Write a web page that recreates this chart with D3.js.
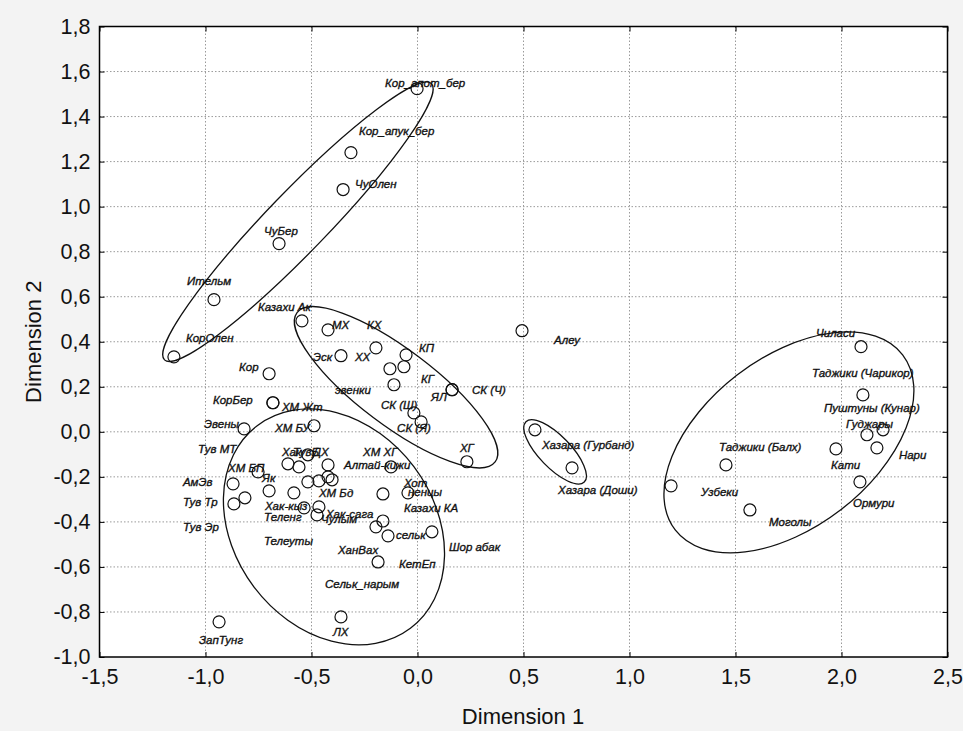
<!DOCTYPE html>
<html><head><meta charset="utf-8">
<script src="https://cdn.jsdelivr.net/npm/d3@7"></script>
<style>
html,body{margin:0;padding:0;background:#f3f3f3;}
svg{display:block;}
</style></head>
<body><div id="chart"></div>
<script>
// ---- data ----
const names = ["Кор_апот_бер","Кор_апук_бер","ЧуОлен","ЧуБер","Ительм","КорОлен","Казахи Ак",
"МХ","КХ","Эск","ХХ","КП","КГ","эвенки","ЯЛ","СК (Ч)","СК (Ш)","СК (Я)","ХГ",
"Алеу","Хазара (Гурбанд)","Хазара (Доши)",
"Чиласи","Таджики (Чарикор)","Пуштуны (Кунар)","Гуджары","Нари","Кати","Ормури","Таджики (Балх)","Узбеки","Моголы",
"Кор","КорБер","ХМ Жт","Эвены","ХМ БУ",
"ХМ БП","Як","Тув МТ","Тув Тр","АмЭв","Хак","ТувБ","ДХ","ХМ ХГ","Телеуты","ХМ Бд","Тув Эр","Сельк_нарым",
"Хак-кыз","Хак-сага","Теленг","Чулым","Алтай-кижи","Хот","ненцы","Казахи КА","ХанВах","сельк","Шор абак","КетЕп","ЛХ","ЗапТунг"];
const dim1 = [-0.002,-0.314,-0.351,-0.653,-0.960,-1.149,-0.545,
-0.422,-0.196,-0.361,-0.130,-0.054,-0.064,-0.111,0.163,0.163,-0.017,0.017,0.233,
0.493,0.554,0.729,
2.092,2.101,2.120,2.196,2.167,1.974,2.087,1.455,1.196,1.568,
-0.700,-0.682,-0.682,-0.818,-0.488,
-0.752,-0.700,-0.870,-0.866,-0.814,-0.611,-0.559,-0.517,-0.422,-0.517,-0.465,-0.422,-0.403,
-0.583,-0.465,-0.535,-0.474,-0.125,-0.163,-0.045,-0.163,-0.196,-0.139,0.068,-0.186,-0.361,-0.936];
const dim2 = [1.524,1.240,1.076,0.836,0.587,0.333,0.493,
0.453,0.373,0.338,0.280,0.342,0.289,0.209,0.187,0.187,0.084,0.044,-0.133,
0.449,0.009,-0.160,
0.378,0.164,-0.013,0.009,-0.071,-0.076,-0.222,-0.147,-0.240,-0.347,
0.258,0.129,0.129,0.013,0.027,
-0.178,-0.262,-0.231,-0.320,-0.293,-0.142,-0.156,-0.102,-0.147,-0.222,-0.218,-0.200,-0.213,
-0.271,-0.333,-0.338,-0.369,-0.156,-0.276,-0.271,-0.396,-0.422,-0.462,-0.444,-0.578,-0.822,-0.844];

// cluster ellipses (data units; a,b measured in x-units, angle in screen degrees)
const ellCX = [-0.564,-0.101,-0.394,0.649,1.752];
const ellCY = [0.933,0.198,-0.422,-0.089,-0.047];
const ellA  = [0.906,0.585,0.599,0.198,0.677];
const ellB  = [0.142,0.179,0.472,0.075,0.401];
const ellAngle = [-46,37,53,46,-37.6];

const xTicks = [-1.5,-1.0,-0.5,0.0,0.5,1.0,1.5,2.0,2.5];
const yTicks = [-1.0,-0.8,-0.6,-0.4,-0.2,0.0,0.2,0.4,0.6,0.8,1.0,1.2,1.4,1.6,1.8];
const xTitle = "Dimension 1", yTitle = "Dimension 2";

// ---- layout: label offsets in px (left edge, vertical centre) ----
const labelDX = [-32,8,12,-15,-27,12,-44,
4,-9,-28,-35,13,17,-59,-21,20,-33,-24,-7,
32,7,-14,
-45,-51,-43,-37,22,-5,-7,-7,30,19,
-30,-60,9,-40,-39,
-30,-7,-35,-51,-62,-6,-6,5,35,-44,0,-145,-7,
-29,7,-40,4,-47,21,0,21,-38,8,17,21,-8,-20];
const labelDY = [-6,-22,-6,-13,-19,-19,-14,
-5,-23,1,-12,-7,12,5,7,0,-8,6,-14,
9,15,22,
-14,-22,-27,-6,7,16,21,-18,6,12,
-7,-3,4,-5,2,
-4,-13,-35,-2,-16,-12,-15,-3,-13,59,12,50,104,
13,7,9,4,-2,-11,-1,-13,23,-1,15,2,15,18];

const W = 963, H = 731;
const m = {left:99.5, right:947.5, top:26.5, bottom:657};
const x = d3.scaleLinear().domain([-1.5,2.5]).range([m.left, m.right]);
const y = d3.scaleLinear().domain([-1.0,1.8]).range([m.bottom, m.top]);
const loc = d3.formatLocale({decimal:",", thousands:" ", grouping:[3], currency:["",""], minus:"-"});
const fmt = loc.format(".1f");

const svg = d3.select("#chart").append("svg").attr("width",W).attr("height",H)
  .style("font-family","'Liberation Sans', Arial, sans-serif");
svg.append("rect").attr("width",W).attr("height",H).attr("fill","#f3f3f3");
svg.append("rect").attr("x",m.left).attr("y",m.top).attr("width",m.right-m.left).attr("height",m.bottom-m.top).attr("fill","#fff");

// grid
const g = svg.append("g");
g.selectAll(".gx").data(xTicks.slice(1,-1)).join("line")
  .attr("x1",d=>x(d)).attr("x2",d=>x(d)).attr("y1",m.top).attr("y2",m.bottom)
  .attr("stroke","#9a9a9a").attr("stroke-width",1).attr("stroke-dasharray","1.5,2");
g.selectAll(".gy").data(yTicks.slice(1,-1)).join("line")
  .attr("y1",d=>y(d)).attr("y2",d=>y(d)).attr("x1",m.left).attr("x2",m.right)
  .attr("stroke","#9a9a9a").attr("stroke-width",1).attr("stroke-dasharray","1.5,2");

// axes
const axB = d3.axisBottom(x).tickValues(xTicks).tickFormat(fmt).tickSizeInner(-5).tickSizeOuter(0).tickPadding(12);
const axL = d3.axisLeft(y).tickValues(yTicks).tickFormat(fmt).tickSizeInner(-5).tickSizeOuter(0).tickPadding(9);
const axT = d3.axisTop(x).tickValues(xTicks).tickFormat("").tickSizeInner(-5).tickSizeOuter(0);
const axR = d3.axisRight(y).tickValues(yTicks).tickFormat("").tickSizeInner(-5).tickSizeOuter(0);
function styleAxis(sel){
  sel.select(".domain").remove();
  sel.selectAll("line").attr("stroke","#000");
  sel.selectAll("text").attr("font-size",21.5).attr("fill","#111");
}
svg.append("g").attr("transform",`translate(0,${m.bottom})`).call(axB).call(styleAxis);
svg.append("g").attr("transform",`translate(${m.left},0)`).call(axL).call(styleAxis);
svg.append("g").attr("transform",`translate(0,${m.top})`).call(axT).call(styleAxis);
svg.append("g").attr("transform",`translate(${m.right},0)`).call(axR).call(styleAxis);
svg.append("rect").attr("x",m.left).attr("y",m.top).attr("width",m.right-m.left).attr("height",m.bottom-m.top)
  .attr("fill","none").attr("stroke","#000").attr("stroke-width",1.5);

// titles
svg.append("text").attr("x",523).attr("y",724).attr("text-anchor","middle")
  .attr("font-size",22).attr("fill","#111").text(xTitle);
svg.append("text").attr("transform",`translate(41,${(m.top+m.bottom)/2}) rotate(-90)`).attr("text-anchor","middle")
  .attr("font-size",22).attr("fill","#111").text(yTitle);

// ellipses
const kx = x(1)-x(0);
svg.append("g").selectAll("ellipse").data(ellCX.map((c,i)=>i)).join("ellipse")
  .attr("cx",0).attr("cy",0)
  .attr("rx",i=>ellA[i]*kx).attr("ry",i=>ellB[i]*kx)
  .attr("transform",i=>`translate(${x(ellCX[i])},${y(ellCY[i])}) rotate(${ellAngle[i]})`)
  .attr("fill","none").attr("stroke","#111").attr("stroke-width",1.3);

// labels
const idx = names.map((n,i)=>i);
svg.append("g").selectAll("text").data(idx).join("text")
  .attr("x",i=>x(dim1[i])+labelDX[i]).attr("y",i=>y(dim2[i])+labelDY[i])
  .attr("dy","0.35em").attr("font-size",11.5).attr("font-style","italic")
  .attr("fill","#111").attr("stroke","#111").attr("stroke-width",0.35).text(i=>names[i]);

// points
svg.append("g").selectAll("circle").data(idx).join("circle")
  .attr("cx",i=>x(dim1[i])).attr("cy",i=>y(dim2[i])).attr("r",6)
  .attr("fill","none").attr("stroke","#111").attr("stroke-width",1.2);
</script></body></html>
